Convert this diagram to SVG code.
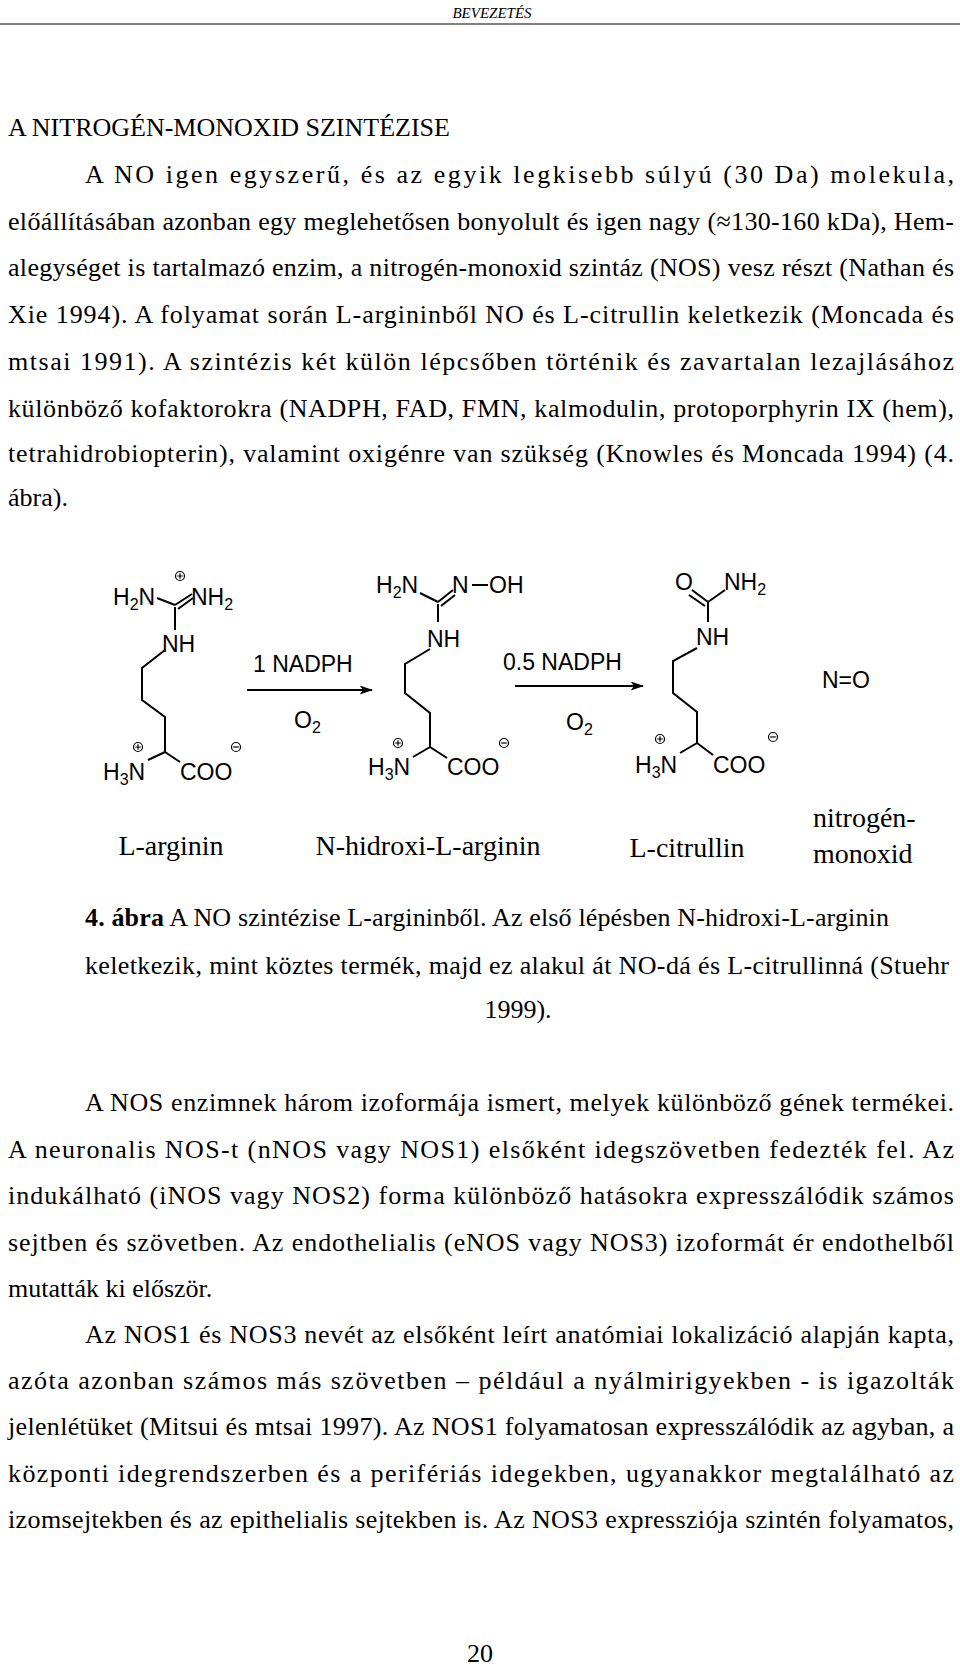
<svg xmlns="http://www.w3.org/2000/svg" width="960" height="1667" viewBox="0 0 960 1667">
<style>
.t{font-family:"Liberation Serif","Times New Roman",serif;font-size:26px;fill:#000}
.c{font-family:"Liberation Sans",Arial,sans-serif;font-size:23px;fill:#000}
.s{font-size:16px}
.b{stroke:#000;stroke-width:2;fill:none}
.lab{font-family:"Liberation Serif","Times New Roman",serif;font-size:28px;fill:#000}
.chg{fill:#fff;stroke:#000;stroke-width:1.2}
</style>
<defs>
<marker id="ah" viewBox="0 0 12 8" refX="11" refY="4" markerWidth="14" markerHeight="9" markerUnits="userSpaceOnUse" orient="auto"><path d="M0,0 L12,4 L0,8 L3,4 Z" fill="#000"/></marker>
<g id="plus"><circle r="4.5" class="chg"/><path d="M-2.8,0H2.8M0,-2.8V2.8" stroke="#000" stroke-width="1.2"/></g>
<g id="minus"><circle r="4.5" class="chg"/><path d="M-2.8,0H2.8" stroke="#000" stroke-width="1.2"/></g>
</defs>
<rect width="960" height="1667" fill="#fff"/>
<text x="492" y="18" text-anchor="middle" style="font-family:'Liberation Serif',serif;font-size:15px;font-style:italic">BEVEZETÉS</text>
<line x1="0" y1="24" x2="960" y2="24" stroke="#000" stroke-width="1"/>
<g class="t">
<text x="8" y="136">A NITROGÉN-MONOXID SZINTÉZISE</text>
<text x="85" y="183" textLength="869" lengthAdjust="spacing">A NO igen egyszerű, és az egyik legkisebb súlyú (30 Da) molekula,</text>
<text x="8" y="230" textLength="946" lengthAdjust="spacing">előállításában azonban egy meglehetősen bonyolult és igen nagy (≈130-160 kDa), Hem-</text>
<text x="8" y="276" textLength="946" lengthAdjust="spacing">alegységet is tartalmazó enzim, a nitrogén-monoxid szintáz (NOS) vesz részt (Nathan és</text>
<text x="8" y="323" textLength="946" lengthAdjust="spacing">Xie 1994). A folyamat során L-argininből NO és L-citrullin keletkezik (Moncada és</text>
<text x="8" y="370" textLength="946" lengthAdjust="spacing">mtsai 1991). A szintézis két külön lépcsőben történik és zavartalan lezajlásához</text>
<text x="8" y="417" textLength="946" lengthAdjust="spacing">különböző kofaktorokra (NADPH, FAD, FMN, kalmodulin, protoporphyrin IX (hem),</text>
<text x="8" y="462" textLength="946" lengthAdjust="spacing">tetrahidrobiopterin), valamint oxigénre van szükség (Knowles és Moncada 1994) (4.</text>
<text x="8" y="506">ábra).</text>
<text x="85" y="926" textLength="804" lengthAdjust="spacing"><tspan font-weight="bold">4.  ábra</tspan> A NO szintézise L-argininből. Az első lépésben N-hidroxi-L-arginin</text>
<text x="85" y="974" textLength="864" lengthAdjust="spacing">keletkezik, mint köztes termék, majd ez alakul át NO-dá és L-citrullinná (Stuehr</text>
<text x="518" y="1018" text-anchor="middle">1999).</text>
<text x="85" y="1111" textLength="869" lengthAdjust="spacing">A NOS enzimnek három izoformája ismert, melyek különböző gének termékei.</text>
<text x="8" y="1158" textLength="946" lengthAdjust="spacing">A neuronalis NOS-t (nNOS vagy NOS1) elsőként idegszövetben fedezték fel. Az</text>
<text x="8" y="1204" textLength="946" lengthAdjust="spacing">indukálható (iNOS vagy NOS2) forma különböző hatásokra expresszálódik számos</text>
<text x="8" y="1251" textLength="946" lengthAdjust="spacing">sejtben és szövetben. Az endothelialis (eNOS vagy NOS3) izoformát ér endothelből</text>
<text x="8" y="1297">mutatták ki először.</text>
<text x="85" y="1343" textLength="869" lengthAdjust="spacing">Az NOS1 és NOS3 nevét az elsőként leírt anatómiai lokalizáció alapján kapta,</text>
<text x="8" y="1389" textLength="946" lengthAdjust="spacing">azóta azonban számos más szövetben – például a nyálmirigyekben - is igazolták</text>
<text x="8" y="1435" textLength="946" lengthAdjust="spacing">jelenlétüket (Mitsui és mtsai 1997). Az NOS1 folyamatosan expresszálódik az agyban, a</text>
<text x="8" y="1482" textLength="946" lengthAdjust="spacing">központi idegrendszerben és a perifériás idegekben, ugyanakkor megtalálható az</text>
<text x="8" y="1528" textLength="946" lengthAdjust="spacing">izomsejtekben és az epithelialis sejtekben is. Az NOS3 expressziója szintén folyamatos,</text>
<text x="480" y="1662" text-anchor="middle">20</text>
</g>
<g id="larginin">
<text class="c" x="113" y="605">H<tspan class="s" dy="5">2</tspan><tspan dy="-5">N</tspan></text>
<text class="c" x="191" y="605">NH<tspan class="s" dy="5">2</tspan></text>
<use href="#plus" x="180" y="576"/>
<path class="b" d="M157,598L175,605M175,605L192,594M178,609L193,598M175,607V630M165,650L142,668V700L165,717V752L148,760M165,752L180,762"/>
<text class="c" x="162" y="652">NH</text>
<text class="c" x="103" y="780">H<tspan class="s" dy="5">3</tspan><tspan dy="-5">N</tspan></text>
<use href="#plus" x="138" y="747"/>
<text class="c" x="180" y="780">COO</text>
<use href="#minus" x="236" y="747"/>
<text class="lab" x="171" y="855" text-anchor="middle">L-arginin</text>
</g>
<g id="nhydroxy">
<text class="c" x="376" y="593">H<tspan class="s" dy="5">2</tspan><tspan dy="-5">N</tspan></text>
<text class="c" x="452" y="593">N</text>
<text class="c" x="489" y="593">OH</text>
<path class="b" d="M420,593L438,602M438,602L453,590M441,606L455,595M472,585H488M438,604V622M430,649L405,664V693L430,713V747L413,757M430,747L447,758"/>
<text class="c" x="427" y="647">NH</text>
<text class="c" x="368" y="775">H<tspan class="s" dy="5">3</tspan><tspan dy="-5">N</tspan></text>
<use href="#plus" x="398" y="743"/>
<text class="c" x="447" y="775">COO</text>
<use href="#minus" x="504" y="743"/>
<text class="lab" x="428" y="855" text-anchor="middle">N-hidroxi-L-arginin</text>
</g>
<g id="lcitrullin">
<text class="c" x="675" y="590">O</text>
<text class="c" x="724" y="590">NH<tspan class="s" dy="5">2</tspan></text>
<path class="b" d="M692,590L708,602M689,595L705,606M708,602L725,590M708,602V622M697,648L673,661V693L697,712V743L680,753M697,743L713,755"/>
<text class="c" x="696" y="645">NH</text>
<text class="c" x="635" y="773">H<tspan class="s" dy="5">3</tspan><tspan dy="-5">N</tspan></text>
<use href="#plus" x="660" y="739"/>
<text class="c" x="713" y="773">COO</text>
<use href="#minus" x="773" y="737"/>
<text class="lab" x="687" y="857" text-anchor="middle">L-citrullin</text>
</g>
<g id="no">
<text class="c" x="822" y="688">N=O</text>
<text class="lab" x="813" y="827">nitrogén-</text>
<text class="lab" x="813" y="863">monoxid</text>
</g>
<g id="connectors">
<line class="b" x1="247" y1="690" x2="372" y2="690" marker-end="url(#ah)"/>
<text class="c" x="253" y="672">1 NADPH</text>
<text class="c" x="294" y="728">O<tspan class="s" dy="5">2</tspan></text>
<line class="b" x1="515" y1="686" x2="643" y2="686" marker-end="url(#ah)"/>
<text class="c" x="503" y="670">0.5 NADPH</text>
<text class="c" x="566" y="730">O<tspan class="s" dy="5">2</tspan></text>
</g>
</svg>
